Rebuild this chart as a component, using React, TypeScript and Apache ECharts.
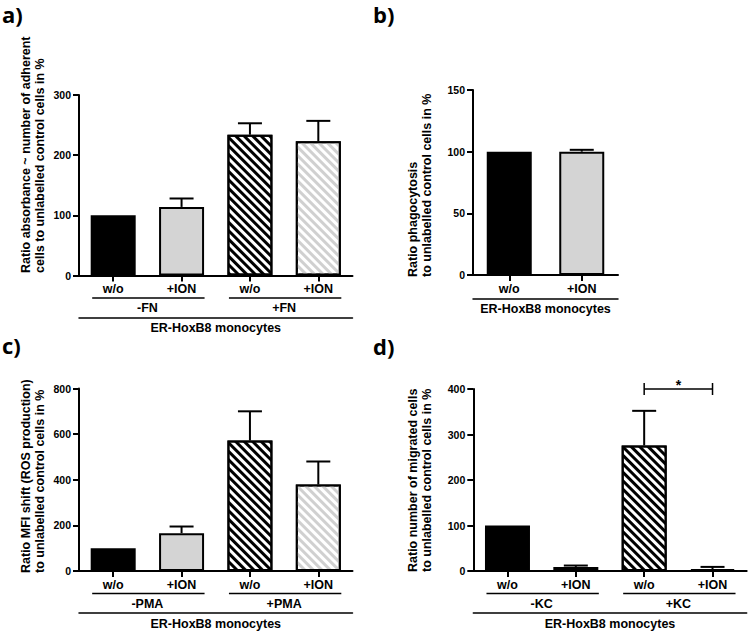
import React, { useEffect, useRef } from 'react';
import * as echarts from 'echarts';

const FONT = '"Liberation Sans", Arial, Helvetica, sans-serif';

// ---- data ----
const catsA = ['w/o', '+ION', 'w/o', '+ION'];
const groupsA = ['-FN', '+FN'];
const meansA = [100, 114, 234, 223];
const sdA = [0, 14, 19, 34];

const catsB = ['w/o', '+ION'];
const meansB = [100, 100];
const sdB = [0, 1.5];

const catsC = ['w/o', '+ION', 'w/o', '+ION'];
const groupsC = ['-PMA', '+PMA'];
const meansC = [100, 166, 572, 379];
const sdC = [0, 29, 128, 101];

const catsD = ['w/o', '+ION', 'w/o', '+ION'];
const groupsD = ['-KC', '+KC'];
const meansD = [100, 9, 276, 4];
const sdD = [0, 3, 76, 5];

const sigD = [[2, 3, 400]];
const sigLabel = '*';

const cellLine = 'ER-HoxB8 monocytes';
const panelLetters = ['a)', 'b)', 'c)', 'd)'];
const yTitles = [
  'Ratio absorbance ~ number of adherent\ncells to unlabelled control cells in %',
  'Ratio phagocytosis\nto unlabelled control cells in %',
  'Ratio MFI shift (ROS production)\nto unlabelled control cells in %',
  'Ratio number of migrated cells\nto unlabelled control cells in %',
];
const yMax = [300, 150, 800, 400];
const yStep = [100, 50, 200, 100];

// ---- layout ----
const grids = [
  { left: 79, top: 95, width: 273.5, height: 180.5 },
  { left: 473, top: 90, width: 145, height: 185 },
  { left: 79, top: 388.5, width: 273.5, height: 182.5 },
  { left: 473.3, top: 389, width: 273.4, height: 182 },
];
// anchor: centre between the two lines (x) and start of text (y, bottom)
const titlePos = [
  [33, 273],
  [419.5, 277],
  [33, 573],
  [419.5, 572],
];
const letterPos = [
  [2, 14],
  [373, 14],
  [2, 345],
  [373, 346],
];

const panels = [
  { cats: catsA, groups: groupsA, means: meansA, sd: sdA, erOffset: 42, erMargin: 4 },
  { cats: catsB, groups: null, means: meansB, sd: sdB, erOffset: 24, erMargin: 3 },
  { cats: catsC, groups: groupsC, means: meansC, sd: sdC, erOffset: 42, erMargin: 4 },
  { cats: catsD, groups: groupsD, means: meansD, sd: sdD, erOffset: 42, erMargin: 4 },
];

function barStyle(k: number) {
  const base = { borderColor: '#000', borderWidth: 2 };
  if (k === 0) return { ...base, color: '#000' };
  if (k === 1) return { ...base, color: '#d4d4d4' };
  return {
    ...base,
    color: '#fff',
    decal: {
      symbol: 'rect',
      symbolSize: 1,
      dashArrayX: [1, 0],
      dashArrayY: [3, 3],
      rotation: Math.PI / 4,
      color: k === 2 ? '#000' : '#d0d0d0',
    },
  };
}

const labelFont = { color: '#000', fontWeight: 'bold' as const, fontSize: 12.5, fontFamily: FONT };

function errorRender(params: any, api: any) {
  const x = api.value(0);
  const m = api.value(1);
  const s = api.value(2);
  if (!s) return null;
  const p0 = api.coord([x, m]);
  const p1 = api.coord([x, m + s]);
  const st = { stroke: '#000', lineWidth: 2 };
  return {
    type: 'group',
    children: [
      { type: 'line', shape: { x1: p0[0], y1: p0[1], x2: p1[0], y2: p1[1] }, style: st },
      { type: 'line', shape: { x1: p1[0] - 12, y1: p1[1], x2: p1[0] + 12, y2: p1[1] }, style: st },
    ],
  };
}

function groupRender(params: any, api: any) {
  const a = api.coord([api.value(0), 0]);
  const b = api.coord([api.value(1), 0]);
  const y = a[1] + 22.5;
  return {
    type: 'line',
    shape: { x1: a[0] - 21, y1: y, x2: b[0] + 23, y2: y },
    style: { stroke: '#000', lineWidth: 1.5 },
  };
}

function sigRender(params: any, api: any) {
  const v = api.value(2);
  const a = api.coord([api.value(0), v]);
  const b = api.coord([api.value(1), v]);
  const st = { stroke: '#000', lineWidth: 1.5 };
  return {
    type: 'group',
    children: [
      { type: 'line', shape: { x1: a[0], y1: a[1], x2: b[0], y2: b[1] }, style: st },
      { type: 'line', shape: { x1: a[0], y1: a[1] - 6, x2: a[0], y2: a[1] + 6 }, style: st },
      { type: 'line', shape: { x1: b[0], y1: b[1] - 6, x2: b[0], y2: b[1] + 6 }, style: st },
      {
        type: 'text',
        x: (a[0] + b[0]) / 2,
        y: a[1] - 4,
        style: {
          text: sigLabel,
          font: `bold 14px ${FONT}`,
          fill: '#000',
          align: 'center',
          verticalAlign: 'middle',
          textAlign: 'center',
          textVerticalAlign: 'middle',
        },
      },
    ],
  };
}

function buildOption() {
  const xAxis: any[] = [];
  const yAxis: any[] = [];
  const series: any[] = [];
  const graphic: any[] = [];

  panels.forEach((p, i) => {
    const mainIdx = xAxis.length;
    xAxis.push({
      type: 'category',
      gridIndex: i,
      data: p.cats,
      position: 'bottom',
      boundaryGap: true,
      axisLine: { show: true, onZero: false, lineStyle: { color: '#000', width: 2 } },
      axisTick: { show: true, alignWithLabel: true, interval: 0, length: 6, lineStyle: { color: '#000', width: 2 } },
      axisLabel: { interval: 0, margin: 7, ...labelFont },
      splitLine: { show: false },
    });
    if (p.groups) {
      xAxis.push({
        type: 'category',
        gridIndex: i,
        data: p.groups,
        position: 'bottom',
        offset: 19,
        axisLine: { show: false },
        axisTick: { show: false },
        axisLabel: { interval: 0, margin: 7, ...labelFont },
        splitLine: { show: false },
      });
    }
    xAxis.push({
      type: 'category',
      gridIndex: i,
      data: [cellLine],
      position: 'bottom',
      offset: p.erOffset,
      axisLine: { show: true, onZero: false, lineStyle: { color: '#000', width: 1.5 } },
      axisTick: { show: false },
      axisLabel: { interval: 0, margin: p.erMargin, ...labelFont },
      splitLine: { show: false },
    });
    yAxis.push({
      type: 'value',
      gridIndex: i,
      min: 0,
      max: yMax[i],
      interval: yStep[i],
      axisLine: { show: true, lineStyle: { color: '#000', width: 2 } },
      axisTick: { show: true, length: 6, lineStyle: { color: '#000', width: 2 } },
      axisLabel: { margin: 8, color: '#000', fontWeight: 'bold', fontSize: 10.5, fontFamily: FONT },
      splitLine: { show: false },
    });

    series.push({
      type: 'bar',
      xAxisIndex: mainIdx,
      yAxisIndex: i,
      barWidth: 45,
      z: 2,
      data: p.means.map((v, k) => ({ value: v, itemStyle: barStyle(k) })),
    });
    series.push({
      type: 'custom',
      xAxisIndex: mainIdx,
      yAxisIndex: i,
      z: 3,
      encode: { x: 0, y: 1 },
      data: p.means.map((m, k) => [k, m, p.sd[k]]),
      renderItem: errorRender,
    });
    if (p.groups) {
      series.push({
        type: 'custom',
        xAxisIndex: mainIdx,
        yAxisIndex: i,
        z: 3,
        clip: false,
        encode: { x: [0, 1], y: 2 },
        data: p.groups.map((g, j) => [2 * j, 2 * j + 1, 0]),
        renderItem: groupRender,
      });
    }
    if (i === 3) {
      series.push({
        type: 'custom',
        xAxisIndex: mainIdx,
        yAxisIndex: i,
        z: 3,
        clip: false,
        encode: { x: [0, 1], y: 2 },
        data: sigD,
        renderItem: sigRender,
      });
    }

    graphic.push({
      type: 'text',
      x: titlePos[i][0],
      y: titlePos[i][1],
      rotation: Math.PI / 2,
      style: {
        text: yTitles[i],
        font: `bold 12.5px ${FONT}`,
        fill: '#000',
        align: 'left',
        verticalAlign: 'middle',
        textAlign: 'left',
        textVerticalAlign: 'middle',
        lineHeight: 14,
      },
    });
    graphic.push({
      type: 'text',
      x: letterPos[i][0],
      y: letterPos[i][1],
      style: {
        text: panelLetters[i],
        font: `bold 22px "Open Sans", ${FONT}`,
        fill: '#000',
        align: 'left',
        verticalAlign: 'middle',
        textAlign: 'left',
        textVerticalAlign: 'middle',
      },
    });
  });

  return {
    animation: false,
    backgroundColor: '#fff',
    grid: grids.map((g) => ({ ...g, containLabel: false, outerBoundsMode: 'none' })),
    xAxis,
    yAxis,
    series,
    graphic,
  };
}

export default function App() {
  const ref = useRef<HTMLDivElement>(null);
  useEffect(() => {
    if (!ref.current) return;
    const chart = echarts.init(ref.current, null, { renderer: 'svg' });
    chart.setOption(buildOption() as any);
    return () => chart.dispose();
  }, []);
  return (
    <div
      ref={ref}
      style={{ position: 'absolute', left: 0, top: 0, width: 750, height: 632, background: '#fff' }}
    />
  );
}
